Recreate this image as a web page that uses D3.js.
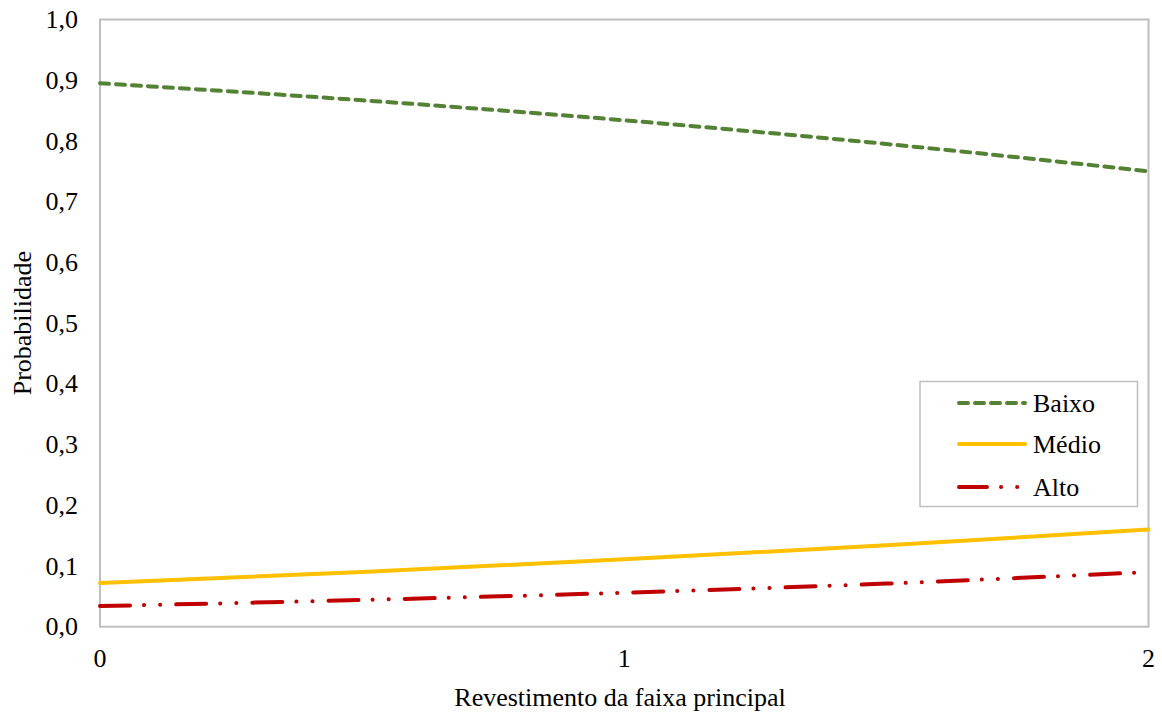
<!DOCTYPE html>
<html><head><meta charset="utf-8">
<script src="https://cdn.jsdelivr.net/npm/d3@7"></script>
<style>body{margin:0;background:#fff;} text{font-family:"Liberation Serif","Times New Roman",serif;fill:#000;}</style>
</head><body>
<svg id="c" width="1162" height="713"></svg>
<script>
const xValues = [0, 0.5, 1, 1.5, 2];
const baixo = [0.895, 0.867, 0.834, 0.795, 0.750];
const medio = [0.072, 0.090, 0.111, 0.134, 0.160];
const alto  = [0.034, 0.044, 0.056, 0.071, 0.090];
const yTicks = [0,0.1,0.2,0.3,0.4,0.5,0.6,0.7,0.8,0.9,1.0];
const xTicks = [0,1,2];
const seriesNames = ["Baixo","Médio","Alto"];

const svg = d3.select("#c");
const L=100, R=1148.5, T=19.5, B=626.7;
const FS = 26;
const x = d3.scaleLinear().domain([0,2]).range([L,R]);
const y = d3.scaleLinear().domain([0,1]).range([B,T]);

svg.append("rect").attr("x",L).attr("y",T).attr("width",R-L).attr("height",B-T)
  .attr("fill","none").attr("stroke","#bfbfbf").attr("stroke-width",2);

svg.append("g").selectAll("text").data(yTicks).join("text")
  .attr("x",78).attr("y",d=>y(d)).attr("dy","0.33em").attr("text-anchor","end")
  .attr("font-size",FS).text(d=>d3.format(".1f")(d).replace(".",","));
svg.append("g").selectAll("text").data(xTicks).join("text")
  .attr("x",d=>x(d)).attr("y",658).attr("dy","0.33em").attr("text-anchor","middle")
  .attr("font-size",FS).text(d=>d);

svg.append("text").attr("x",620).attr("y",697).attr("dy","0.33em").attr("text-anchor","middle")
  .attr("font-size",FS).text("Revestimento da faixa principal");
svg.append("text").attr("transform",`translate(22,${(T+B)/2}) rotate(-90)`).attr("dy","0.33em")
  .attr("text-anchor","middle").attr("font-size",FS).text("Probabilidade");

const styles = [
  {data:baixo, color:"#548235", dash:"9 7", w:4},
  {data:medio, color:"#ffc000", dash:null, w:4},
  {data:alto, color:"#c00000", dash:"30 14 0.1 16 0.1 16", w:4}
];
const line = d3.line().x((d,i)=>x(xValues[i])).y(d=>y(d)).curve(d3.curveMonotoneX);
styles.forEach(s=>{
  svg.append("path").attr("d",line(s.data)).attr("fill","none").attr("stroke",s.color)
    .attr("stroke-width",s.w).attr("stroke-linecap","round")
    .attr("stroke-dasharray",s.dash);
});

const lg = svg.append("g");
lg.append("rect").attr("x",920).attr("y",381.5).attr("width",217.5).attr("height",125)
  .attr("fill","#fff").attr("stroke","#bfbfbf").attr("stroke-width",1.5);
const ly = [403,444,487];
const legStyles = [
  {color:"#548235", dash:"9 7"},
  {color:"#ffc000", dash:null},
  {color:"#c00000", dash:"28 14 0.1 16 0.1 16"}
];
seriesNames.forEach((n,i)=>{
  lg.append("line").attr("x1",959).attr("x2",1025).attr("y1",ly[i]).attr("y2",ly[i])
    .attr("stroke",legStyles[i].color).attr("stroke-width",4).attr("stroke-linecap","round")
    .attr("stroke-dasharray",legStyles[i].dash);
  lg.append("text").attr("x",1033).attr("y",ly[i]).attr("dy","0.33em").attr("font-size",FS).text(n);
});
</script>
</body></html>
